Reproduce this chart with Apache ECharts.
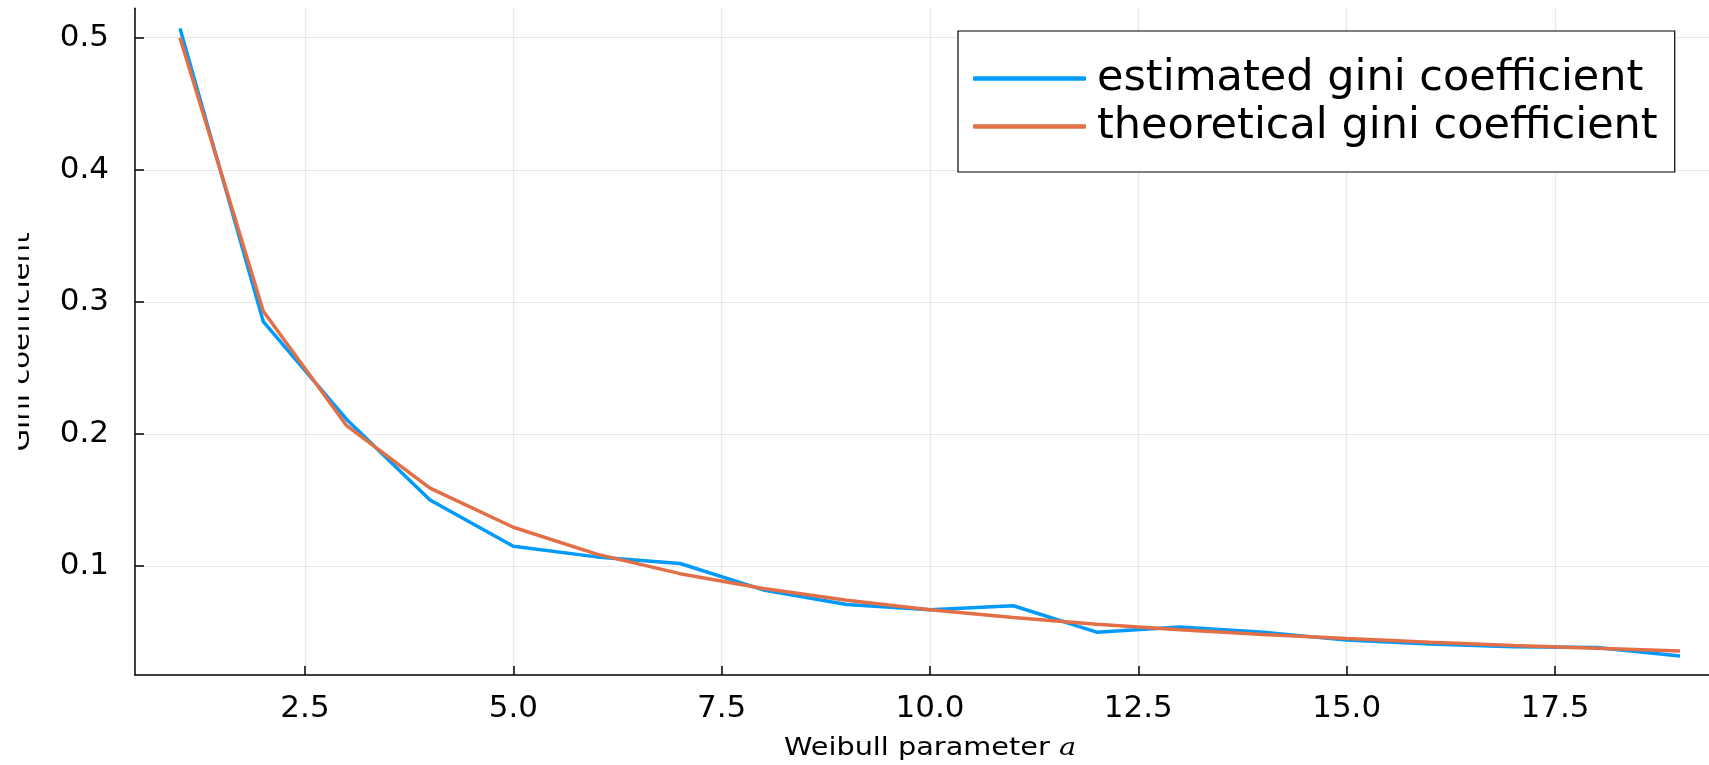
<!DOCTYPE html>
<html>
<head>
<meta charset="utf-8">
<script src="https://cdn.jsdelivr.net/npm/echarts@6/dist/echarts.min.js"></script>
<style>
html,body{margin:0;padding:0;background:#fff;}
#chart{width:1709px;height:765px;}
</style>
</head>
<body>
<div id="chart"></div>
<script>
const weibullA = [1,2,3,4,5,6,7,8,9,10,11,12,13,14,15,16,17,18,19];
const estimatedGini = [0.507,0.285,0.211,0.150,0.115,0.107,0.102,0.082,0.071,0.067,0.070,0.050,0.054,0.050,0.044,0.041,0.039,0.0385,0.032];
const theoreticalGini = [0.500,0.2929,0.2063,0.1591,0.1294,0.1091,0.0943,0.0830,0.0741,0.0670,0.0611,0.0561,0.0519,0.0483,0.0452,0.0424,0.0400,0.0378,0.0358];
const xTicks = [2.5,5.0,7.5,10.0,12.5,15.0,17.5];
const yTicks = [0.1,0.2,0.3,0.4,0.5];
const seriesNames = ['estimated gini coefficient','theoretical gini coefficient'];
const xTitle = 'Weibull parameter ';
const xTitleVar = 'a';
const yTitle = 'Gini coefficient';

const chart = echarts.init(document.getElementById('chart'), null, {renderer:'canvas'});
const FONT = 'DejaVu Sans';
const gridLine = {show:true, lineStyle:{color:'#e8e8e8', width:1.2}};
const option = {
  animation:false,
  backgroundColor:'#fff',
  grid:{left:135, top:8.3, right:-16, bottom:90, containLabel:false, outerBoundsMode:'none'},
  xAxis:{
    type:'value', min:0.46, max:19.54,
    axisLine:{show:true, onZero:false, lineStyle:{color:'#000', width:1.5}},
    axisTick:{show:true, inside:true, length:9, customValues:xTicks, lineStyle:{color:'#000', width:1.5}},
    axisLabel:{customValues:xTicks, fontFamily:FONT, fontSize:31, color:'#000', margin:18,
      formatter:v=>v.toFixed(1)},
    splitLine:gridLine
  },
  yAxis:{
    type:'value', min:0.0176, max:0.5222,
    axisLine:{show:true, onZero:false, lineStyle:{color:'#000', width:1.5}},
    axisTick:{show:true, inside:true, length:9, customValues:yTicks, lineStyle:{color:'#000', width:1.5}},
    axisLabel:{customValues:yTicks, fontFamily:FONT, fontSize:31, color:'#000', margin:26,
      formatter:v=>v.toFixed(1)},
    splitLine:gridLine
  },
  legend:{
    orient:'vertical', left:958, top:31,
    backgroundColor:'#fff', borderColor:'#000', borderWidth:1.2, borderRadius:0,
    padding:[26,17,24,15],
    itemWidth:113, itemHeight:4.5, itemGap:5,
    icon:'roundRect',
    textStyle:{fontFamily:FONT, fontSize:43, color:'#000', lineHeight:42, padding:[0,0,0,6]},
    data:seriesNames
  },
  graphic:[
    {type:'text', x:930, y:748, scaleX:1.15, scaleY:1,
     style:{text:xTitle + '{i|' + xTitleVar + '}', fontFamily:FONT, fontSize:25, fill:'#000',
       align:'center', verticalAlign:'middle',
       rich:{i:{fontFamily:'DejaVu Serif', fontStyle:'italic', fontSize:25, fill:'#000'}}}, z:50},
    {type:'text', x:22, y:342, rotation:Math.PI/2, scaleX:1.17, scaleY:1,
     style:{text:yTitle, fontFamily:FONT, fontSize:25, fill:'#000', align:'center', verticalAlign:'middle'}, z:50},
    {type:'rect', x:0, y:150, shape:{width:18.3, height:400}, style:{fill:'#fff'}, z:100}
  ],
  series:[
    {name:seriesNames[0], type:'line', data:weibullA.map((a,i)=>[a,estimatedGini[i]]),
     showSymbol:false, symbol:'none', lineStyle:{color:'#009AFA', width:3.5}, itemStyle:{color:'#009AFA'}},
    {name:seriesNames[1], type:'line', data:weibullA.map((a,i)=>[a,theoreticalGini[i]]),
     showSymbol:false, symbol:'none', lineStyle:{color:'#E36F47', width:3.5}, itemStyle:{color:'#E36F47'}}
  ]
};
chart.setOption(option);
</script>
</body>
</html>
